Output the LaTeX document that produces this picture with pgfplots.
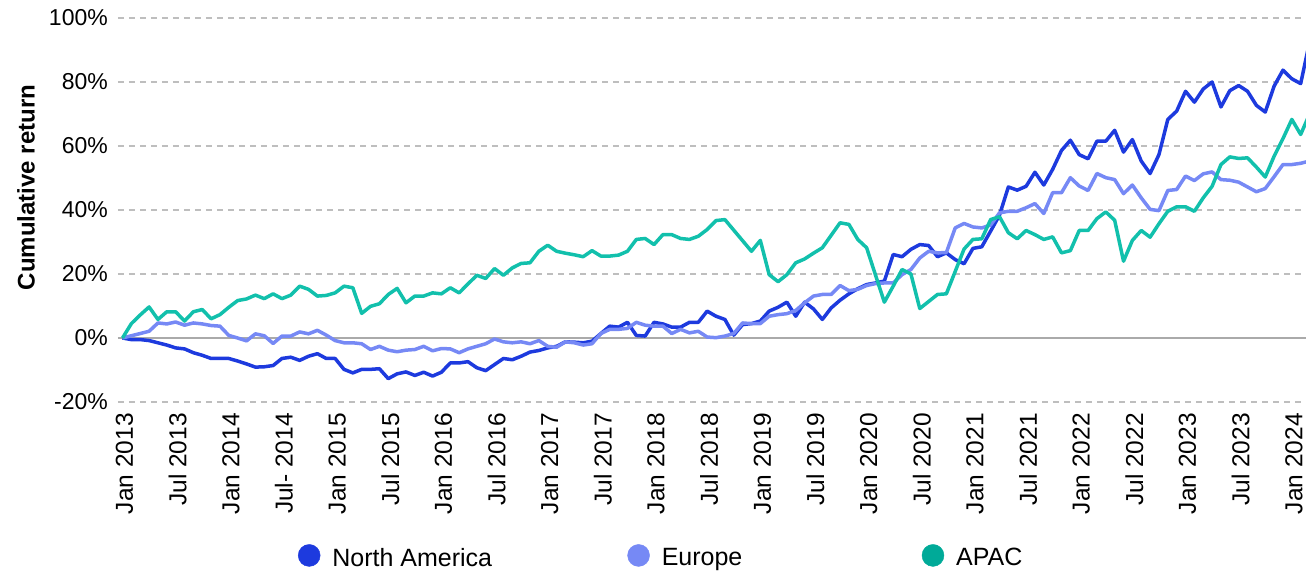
\documentclass[border=0pt]{standalone}
\usepackage{fontspec}
\setmainfont{Liberation Sans}
\usepackage{pgfplots}
\usepackage{pgfplotstable}
\pgfplotsset{compat=1.18}
\definecolor{na}{RGB}{29,58,222}
\definecolor{eu}{RGB}{118,137,245}
\definecolor{ap}{RGB}{18,192,172}
\definecolor{apleg}{RGB}{0,170,152}
\definecolor{gridc}{RGB}{190,190,190}
\definecolor{zeroc}{RGB}{170,170,170}
\pgfplotstableread{
m na eu ap
0 0 0 0
1 -0.5 0.7 4.5
2 -0.5 1.4 7.2
3 -0.8 2.1 9.7
4 -1.5 4.7 5.8
5 -2.2 4.4 8.2
6 -3.1 5.0 8.2
7 -3.4 4.0 5.3
8 -4.6 4.7 8.2
9 -5.4 4.4 8.9
10 -6.4 3.9 6.0
11 -6.4 3.7 7.3
12 -6.4 0.8 9.6
13 -7.2 0.0 11.7
14 -8.1 -0.9 12.2
15 -9.1 1.3 13.4
16 -9.0 0.7 12.3
17 -8.6 -1.7 13.8
18 -6.4 0.6 12.3
19 -6.0 0.6 13.4
20 -7.0 1.9 16.2
21 -5.7 1.3 15.2
22 -4.9 2.4 13.1
23 -6.4 0.9 13.3
24 -6.4 -0.8 14.1
25 -9.8 -1.5 16.2
26 -10.9 -1.5 15.7
27 -9.8 -1.8 7.7
28 -9.8 -3.6 9.9
29 -9.6 -2.6 10.7
30 -12.7 -3.8 13.6
31 -11.2 -4.3 15.5
32 -10.6 -3.8 11.0
33 -11.7 -3.6 13.1
34 -10.7 -2.6 13.1
35 -11.9 -4.0 14.1
36 -10.7 -3.3 13.8
37 -7.8 -3.4 15.7
38 -7.8 -4.6 14.1
39 -7.4 -3.4 16.9
40 -9.3 -2.6 19.6
41 -10.2 -1.8 18.6
42 -8.3 -0.3 21.7
43 -6.4 -1.2 19.6
44 -6.8 -1.5 21.9
45 -5.7 -1.2 23.3
46 -4.4 -1.8 23.5
47 -3.9 -0.8 27.1
48 -3.1 -2.6 29.0
49 -2.6 -2.9 27.1
50 -1.2 -1.2 26.5
51 -1.3 -1.5 26.0
52 -1.5 -2.2 25.4
53 -1.0 -1.8 27.3
54 1.4 1.4 25.6
55 3.7 2.7 25.6
56 3.4 2.7 25.9
57 4.9 3.0 27.1
58 0.8 4.9 30.8
59 0.6 4.0 31.1
60 4.9 3.7 29.2
61 4.4 3.7 32.3
62 3.4 1.4 32.3
63 3.4 2.7 31.1
64 4.9 1.6 30.8
65 4.9 2.1 31.8
66 8.4 0.3 33.9
67 6.8 0.1 36.7
68 5.8 0.6 37.0
69 0.9 1.4 33.7
70 4.2 4.7 30.4
71 4.5 4.5 27.1
72 5.3 4.5 30.5
73 8.4 6.8 19.8
74 9.6 7.3 17.6
75 11.2 7.6 19.8
76 6.8 8.6 23.5
77 11.2 11.0 24.7
78 9.1 13.1 26.5
79 5.8 13.6 28.2
80 9.4 13.6 32.1
81 11.8 16.4 36.0
82 13.8 14.8 35.5
83 15.4 15.2 30.8
84 16.7 16.4 28.2
85 17.2 17.0 19.7
86 17.8 17.2 11.2
87 26.1 17.2 16.2
88 25.4 19.8 21.4
89 27.7 21.4 20.0
90 29.2 25.0 9.2
91 28.9 27.1 11.4
92 25.4 26.6 13.6
93 26.6 26.7 13.8
94 24.5 34.4 20.8
95 23.2 35.8 27.8
96 28.0 34.7 30.8
97 28.5 34.4 31.0
98 33.4 35.3 37.0
99 38.4 39.1 37.9
100 47.2 39.6 32.9
101 46.2 39.6 31.0
102 47.4 40.7 33.6
103 51.8 42.0 32.3
104 47.8 38.9 30.8
105 52.7 45.4 31.6
106 58.6 45.4 26.6
107 61.8 50.1 27.3
108 57.3 47.5 33.6
109 56.0 46.1 33.6
110 61.5 51.4 37.3
111 61.5 50.1 39.4
112 64.9 49.5 36.8
113 58.1 45.1 24.0
114 62.0 47.8 30.5
115 55.3 43.8 33.6
116 51.4 40.2 31.5
117 57.3 39.8 35.7
118 68.3 46.1 39.6
119 70.9 46.4 41.0
120 77.1 50.6 41.0
121 73.7 49.2 39.6
122 77.8 51.3 43.8
123 80.0 51.9 47.4
124 72.2 49.5 54.2
125 77.3 49.3 56.6
126 78.9 48.7 56.1
127 77.1 47.2 56.3
128 72.7 45.7 53.4
129 70.6 46.7 50.3
130 78.7 50.4 56.8
131 83.7 54.2 62.3
132 81.0 54.2 68.3
133 79.5 54.6 63.6
134 92.5 55.3 70.0
}\data
\begin{document}
\begin{tikzpicture}
\path[use as bounding box] (-118pt,-170pt) rectangle (1188pt,402pt);
\begin{axis}[
  scale only axis, width=1188pt, height=384pt,
  at={(0pt,0pt)}, anchor=south west,
  xmin=-0.51, xmax=133.6, ymin=-20, ymax=100,
  axis line style={draw=none},
  major tick length=0pt,
  tick style={draw=none},
  ytick={-20,0,20,40,60,80,100},
  yticklabels={-20\%,0\%,20\%,40\%,60\%,80\%,100\%},
  ymajorgrids,
  major grid style={dash pattern=on 6pt off 5pt, line width=1.1pt, color=gridc},
  extra y ticks={0},
  extra y tick labels={},
  extra y tick style={grid=major, major grid style={solid, color=zeroc, line width=1.5pt}},
  xtick={0,6,...,132},
  xticklabels={Jan 2013,Jul 2013,Jan 2014,Jul- 2014,Jan 2015,Jul 2015,Jan 2016,Jul 2016,Jan 2017,Jul 2017,Jan 2018,Jul 2018,Jan 2019,Jul 2019,Jan 2020,Jul 2020,Jan 2021,Jul 2021,Jan 2022,Jul 2022,Jan 2023,Jul 2023,Jan 2024},
  yticklabel style={font=\fontsize{23}{27}\selectfont, anchor=east, inner sep=0pt, xshift=-10pt},
  xticklabel style={font=\fontsize{24.5}{28}\selectfont, yshift=-11pt, xshift=2pt, rotate=90, anchor=east, inner sep=0pt},
  ylabel={Cumulative return},
  ylabel style={font=\bfseries\fontsize{24}{28}\selectfont, at={(axis description cs:-0.0774,0.5586)}, anchor=center},
  legend image code/.code={\fill[#1] (11pt,2.5pt) circle[radius=11pt];},
  legend columns=3,
  legend cell align=left,
  legend style={at={(axis description cs:0.1515,-0.401)}, anchor=west, draw=none, fill=none, inner sep=0pt, outer sep=0pt, column sep=0pt, font=\fontsize{25}{30}\selectfont, nodes={inner sep=0pt}, /tikz/every odd column/.append style={column sep=12pt}},
  clip=true,
]
\addplot[na, line width=3.5pt, line join=round, forget plot] table[x=m, y=na] {\data};
\addplot[eu, line width=3.5pt, line join=round, forget plot] table[x=m, y=eu] {\data};
\addplot[ap, line width=3.5pt, line join=round, forget plot] table[x=m, y=ap] {\data};
\addlegendimage{na}
\addlegendentry{\makebox[295pt][l]{North America}}
\addlegendimage{eu}
\addlegendentry{\makebox[260pt][l]{Europe}}
\addlegendimage{apleg}
\addlegendentry{APAC}
\end{axis}
\end{tikzpicture}
\end{document}
